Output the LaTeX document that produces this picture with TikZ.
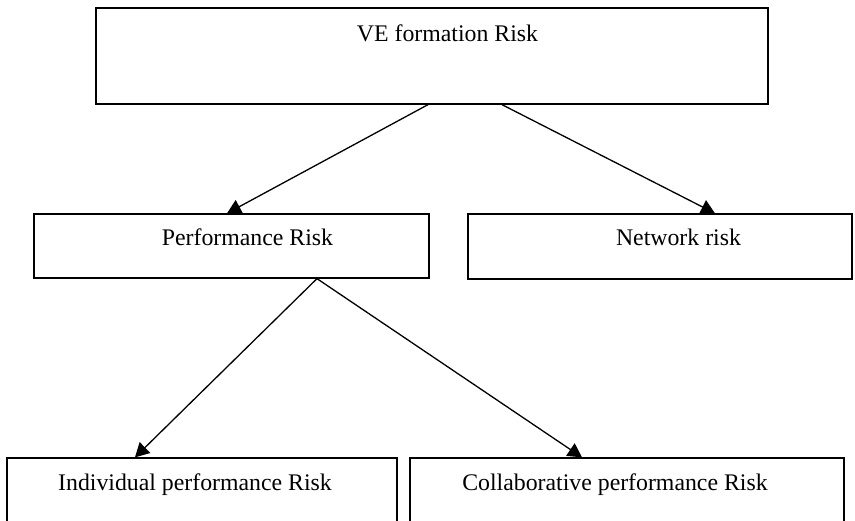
\documentclass[tikz,border=0pt]{standalone}
\usepackage{fontspec}
\setmainfont{Liberation Serif}
\usetikzlibrary{arrows.meta}
\begin{document}
\begin{tikzpicture}[x=1pt,y=-1pt,
  box/.style={draw=black,line width=1.3pt,inner sep=0pt,fill=white},
  lbl/.style={anchor=base,inner sep=0pt,font=\fontsize{23.8}{28}\selectfont},
  arr/.style={line width=1.3pt,-{Triangle[length=14pt,width=15pt]}}]
\useasboundingbox (0,0) rectangle (855,521);
\clip (0,0) rectangle (855,521);
\node[box,minimum width=672pt,minimum height=96pt] (top) at (432,56) {};
\node[box,minimum width=395pt,minimum height=64pt] (perf) at (231.5,246) {};
\node[box,minimum width=384pt,minimum height=65pt] (net) at (660,246.5) {};
\node[box,minimum width=390pt,minimum height=82pt] (ind) at (202,499) {};
\node[box,minimum width=434pt,minimum height=82pt] (col) at (627,499) {};
\node[lbl] (ttop) at (447.5,42) {VE formation Risk};
\node[lbl] (tperf) at (247.5,246) {Performance Risk};
\node[lbl] (tnet) at (678.5,246) {Network risk};
\node[lbl] (tind) at (195,490) {Individual performance Risk};
\node[lbl] (tcol) at (615,490) {Collaborative performance Risk};
\draw[arr] ([xshift=-4pt]top.south) -- ([xshift=-4.5pt]perf.north);
\draw[arr] ([xshift=70pt]top.south) -- ([xshift=55pt]net.north);
\draw[arr] ([xshift=85.5pt]perf.south) -- ([xshift=-67pt]ind.north);
\draw[arr] ([xshift=85.5pt]perf.south) -- ([xshift=-45pt]col.north);
\end{tikzpicture}
\end{document}
